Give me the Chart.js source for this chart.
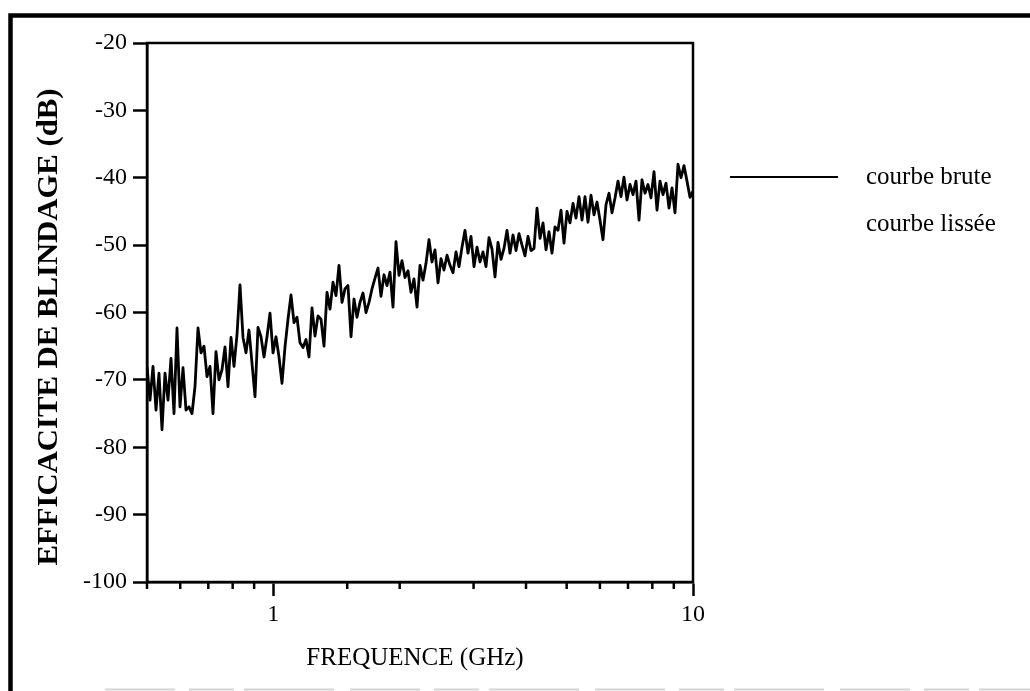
<!DOCTYPE html>
<html lang="fr">
<head>
<meta charset="utf-8">
<title>Efficacité de blindage</title>
<script src="https://cdn.jsdelivr.net/npm/chart.js@4.4.1/dist/chart.umd.min.js"></script>
<style>
  html, body { margin: 0; padding: 0; background: #fff; }
  #wrap { position: relative; width: 1030px; height: 691px; }
  canvas { display: block; }
</style>
</head>
<body>
<div id="wrap"><canvas id="c" width="1030" height="691"></canvas></div>
<script>
// Sweep limits (GHz); points are log-spaced between them
const sweepStartGHz = 0.5;
const sweepStopGHz = 10;

// Raw measured shielding effectiveness (dB), one value per sweep point
const courbeBrute = [
  -68, -73, -68, -74.5, -69, -77.4, -69, -73, -66.8, -75,
  -62.3, -74, -68.2, -74.5, -74, -75, -71, -62.3, -66, -65,
  -69.5, -68, -75, -65.8, -70, -68.5, -65.1, -71, -63.7, -68,
  -63.3, -55.9, -63.7, -66, -62.6, -67.5, -72.5, -62.2, -63.6, -66.6,
  -63.6, -60.1, -66, -63.6, -66.6, -70.5, -65.1, -61, -57.4, -61.5,
  -60.7, -64.5, -65.2, -64, -66.6, -59.3, -63.5, -60.5, -61, -65,
  -57, -59.5, -55.5, -57.5, -53, -58.5, -56.5, -56, -63.6, -58,
  -60.7, -58.5, -57.1, -60, -58.5, -56.5, -54.9, -53.4, -57.6, -54.4,
  -56, -54, -59.2, -49.5, -54.5, -52.3, -54.8, -53.8, -57, -55,
  -59.2, -53, -55.2, -52.7, -49.2, -52.5, -50.7, -55.6, -52, -53.7,
  -51.5, -53, -54.1, -51, -53.2, -50.3, -47.8, -51.2, -48.7, -53.2,
  -50.3, -52.5, -51, -53.2, -48.9, -50.6, -54.7, -49.6, -52.1, -50.5,
  -47.8, -51.2, -48.5, -50.8, -48.3, -50, -51.6, -48.7, -50.8, -50.5,
  -44.5, -49, -46.7, -50.7, -48, -51.2, -47.3, -47.8, -44.8, -49.7,
  -45, -46.7, -43.8, -46, -42.8, -46.3, -42.8, -46.6, -42.6, -45.5,
  -43.6, -46.3, -49.2, -44, -42.3, -45.2, -43, -40.5, -42.8, -39.9,
  -43.3, -41, -42.5, -40.5, -46.3, -40.3, -42.3, -41, -43, -39.1,
  -44.8, -40.5, -42.5, -40.8, -44.5, -41.5, -45.2, -38, -40, -38.2,
  -40.5, -42.9, -42
];

// Smoothed trace: listed in the key, no points on this plate
const courbeLissee = [];

const seriesNames = ['courbe brute', 'courbe lissée'];
const yTickValues = [-20, -30, -40, -50, -60, -70, -80, -90, -100];
const xLabelledTicks = [1, 10];
const xAxisTitle = 'FREQUENCE (GHz)';
const yAxisTitle = 'EFFICACITE DE BLINDAGE (dB)';

const SERIF = '"Liberation Serif", "Times New Roman", serif';

// log-spaced sweep grid
const nPts = courbeBrute.length;
const freqGHz = courbeBrute.map((_, i) =>
  sweepStartGHz * Math.pow(sweepStopGHz / sweepStartGHz, i / (nPts - 1)));

const brutePoints = courbeBrute.map((v, i) => ({ x: freqGHz[i], y: v }));

// Frame, plot box, minor ticks, axis titles and key
const platePlugin = {
  id: 'plate',
  beforeDraw(chart) {
    const { ctx, width, height } = chart;
    ctx.save();
    ctx.fillStyle = '#fff';
    ctx.fillRect(0, 0, width, height);
    ctx.restore();
  },
  afterDraw(chart) {
    const { ctx, chartArea: a } = chart;
    const xs = chart.scales.x;
    ctx.save();
    ctx.strokeStyle = '#000';
    ctx.fillStyle = '#000';

    // plot box
    ctx.lineWidth = 2.5;
    ctx.strokeRect(a.left, a.top, a.right - a.left, a.bottom - a.top);

    // short ticks for the intermediate decades
    ctx.lineWidth = 2.5;
    xs.ticks.forEach(t => {
      if (t.major) return;
      const px = xs.getPixelForValue(t.value);
      ctx.beginPath();
      ctx.moveTo(px, a.bottom);
      ctx.lineTo(px, a.bottom + 7);
      ctx.stroke();
    });

    // page frame (left and top)
    ctx.lineWidth = 4.5;
    ctx.beginPath();
    ctx.moveTo(10.5, 691);
    ctx.lineTo(10.5, 15.5);
    ctx.lineTo(1030, 15.5);
    ctx.stroke();

    // faint lower edge
    ctx.strokeStyle = '#d4d4d4';
    ctx.lineWidth = 2;
    ctx.setLineDash([70, 14, 45, 10, 90, 16]);
    ctx.beginPath();
    ctx.moveTo(105, 689.5);
    ctx.lineTo(1030, 689.5);
    ctx.stroke();
    ctx.setLineDash([]);
    ctx.strokeStyle = '#000';

    // x title
    ctx.font = '25px ' + SERIF;
    ctx.textAlign = 'center';
    ctx.textBaseline = 'alphabetic';
    ctx.fillText(xAxisTitle, 415, 665);

    // y title, rotated
    ctx.save();
    ctx.font = 'bold 29px ' + SERIF;
    const w = ctx.measureText(yAxisTitle).width;
    ctx.translate(57, 327);
    ctx.rotate(-Math.PI / 2);
    ctx.scale(477 / w, 1);
    ctx.textAlign = 'center';
    ctx.textBaseline = 'alphabetic';
    ctx.fillText(yAxisTitle, 0, 0);
    ctx.restore();

    // key
    const keyY = [177, 224];
    ctx.font = '25px ' + SERIF;
    ctx.textAlign = 'left';
    ctx.textBaseline = 'middle';
    chart.data.datasets.forEach((ds, i) => {
      const y = keyY[i];
      if (ds.borderWidth > 0) {
        ctx.lineWidth = 2;
        ctx.strokeStyle = ds.borderColor;
        ctx.beginPath();
        ctx.moveTo(730, y);
        ctx.lineTo(838, y);
        ctx.stroke();
      }
      ctx.fillText(ds.label, 866, y);
    });
    ctx.restore();
  }
};

new Chart(document.getElementById('c'), {
  type: 'line',
  data: {
    datasets: [
      {
        label: seriesNames[0],
        data: brutePoints,
        borderColor: '#000',
        borderWidth: 2.8,
        borderJoinStyle: 'round',
        pointRadius: 0,
        tension: 0,
        fill: false
      },
      {
        label: seriesNames[1],
        data: courbeLissee,
        borderColor: '#000',
        borderWidth: 0,
        pointRadius: 0
      }
    ]
  },
  options: {
    responsive: false,
    animation: false,
    devicePixelRatio: 1,
    layout: { padding: { left: 0, top: 43, right: 337, bottom: 0 } },
    plugins: { legend: { display: false }, tooltip: { enabled: false } },
    scales: {
      x: {
        type: 'logarithmic',
        min: sweepStartGHz,
        max: sweepStopGHz,
        afterFit(s) { s.height = 109; },
        border: { display: true, color: '#000', width: 2.5 },
        grid: {
          drawOnChartArea: false,
          drawTicks: true,
          tickLength: 14,
          tickWidth: 2.5,
          tickColor: c => (c.tick && xLabelledTicks.includes(c.tick.value)) ? '#000' : 'rgba(0,0,0,0)'
        },
        ticks: {
          color: '#000',
          font: { family: SERIF, size: 24 },
          padding: 4,
          maxRotation: 0,
          autoSkip: false,
          callback: v => xLabelledTicks.includes(v) ? String(v) : ''
        }
      },
      y: {
        type: 'linear',
        min: -100,
        max: -20,
        afterFit(s) { s.width = 147; },
        afterBuildTicks(s) { s.ticks = yTickValues.map(v => ({ value: v })); },
        border: { display: true, color: '#000', width: 2.5 },
        grid: {
          drawOnChartArea: false,
          drawTicks: true,
          tickLength: 14,
          tickWidth: 2.5,
          tickColor: '#000'
        },
        ticks: {
          color: '#000',
          font: { family: SERIF, size: 24 },
          padding: 6,
          callback: v => String(v)
        }
      }
    }
  },
  plugins: [platePlugin]
});
</script>
</body>
</html>
